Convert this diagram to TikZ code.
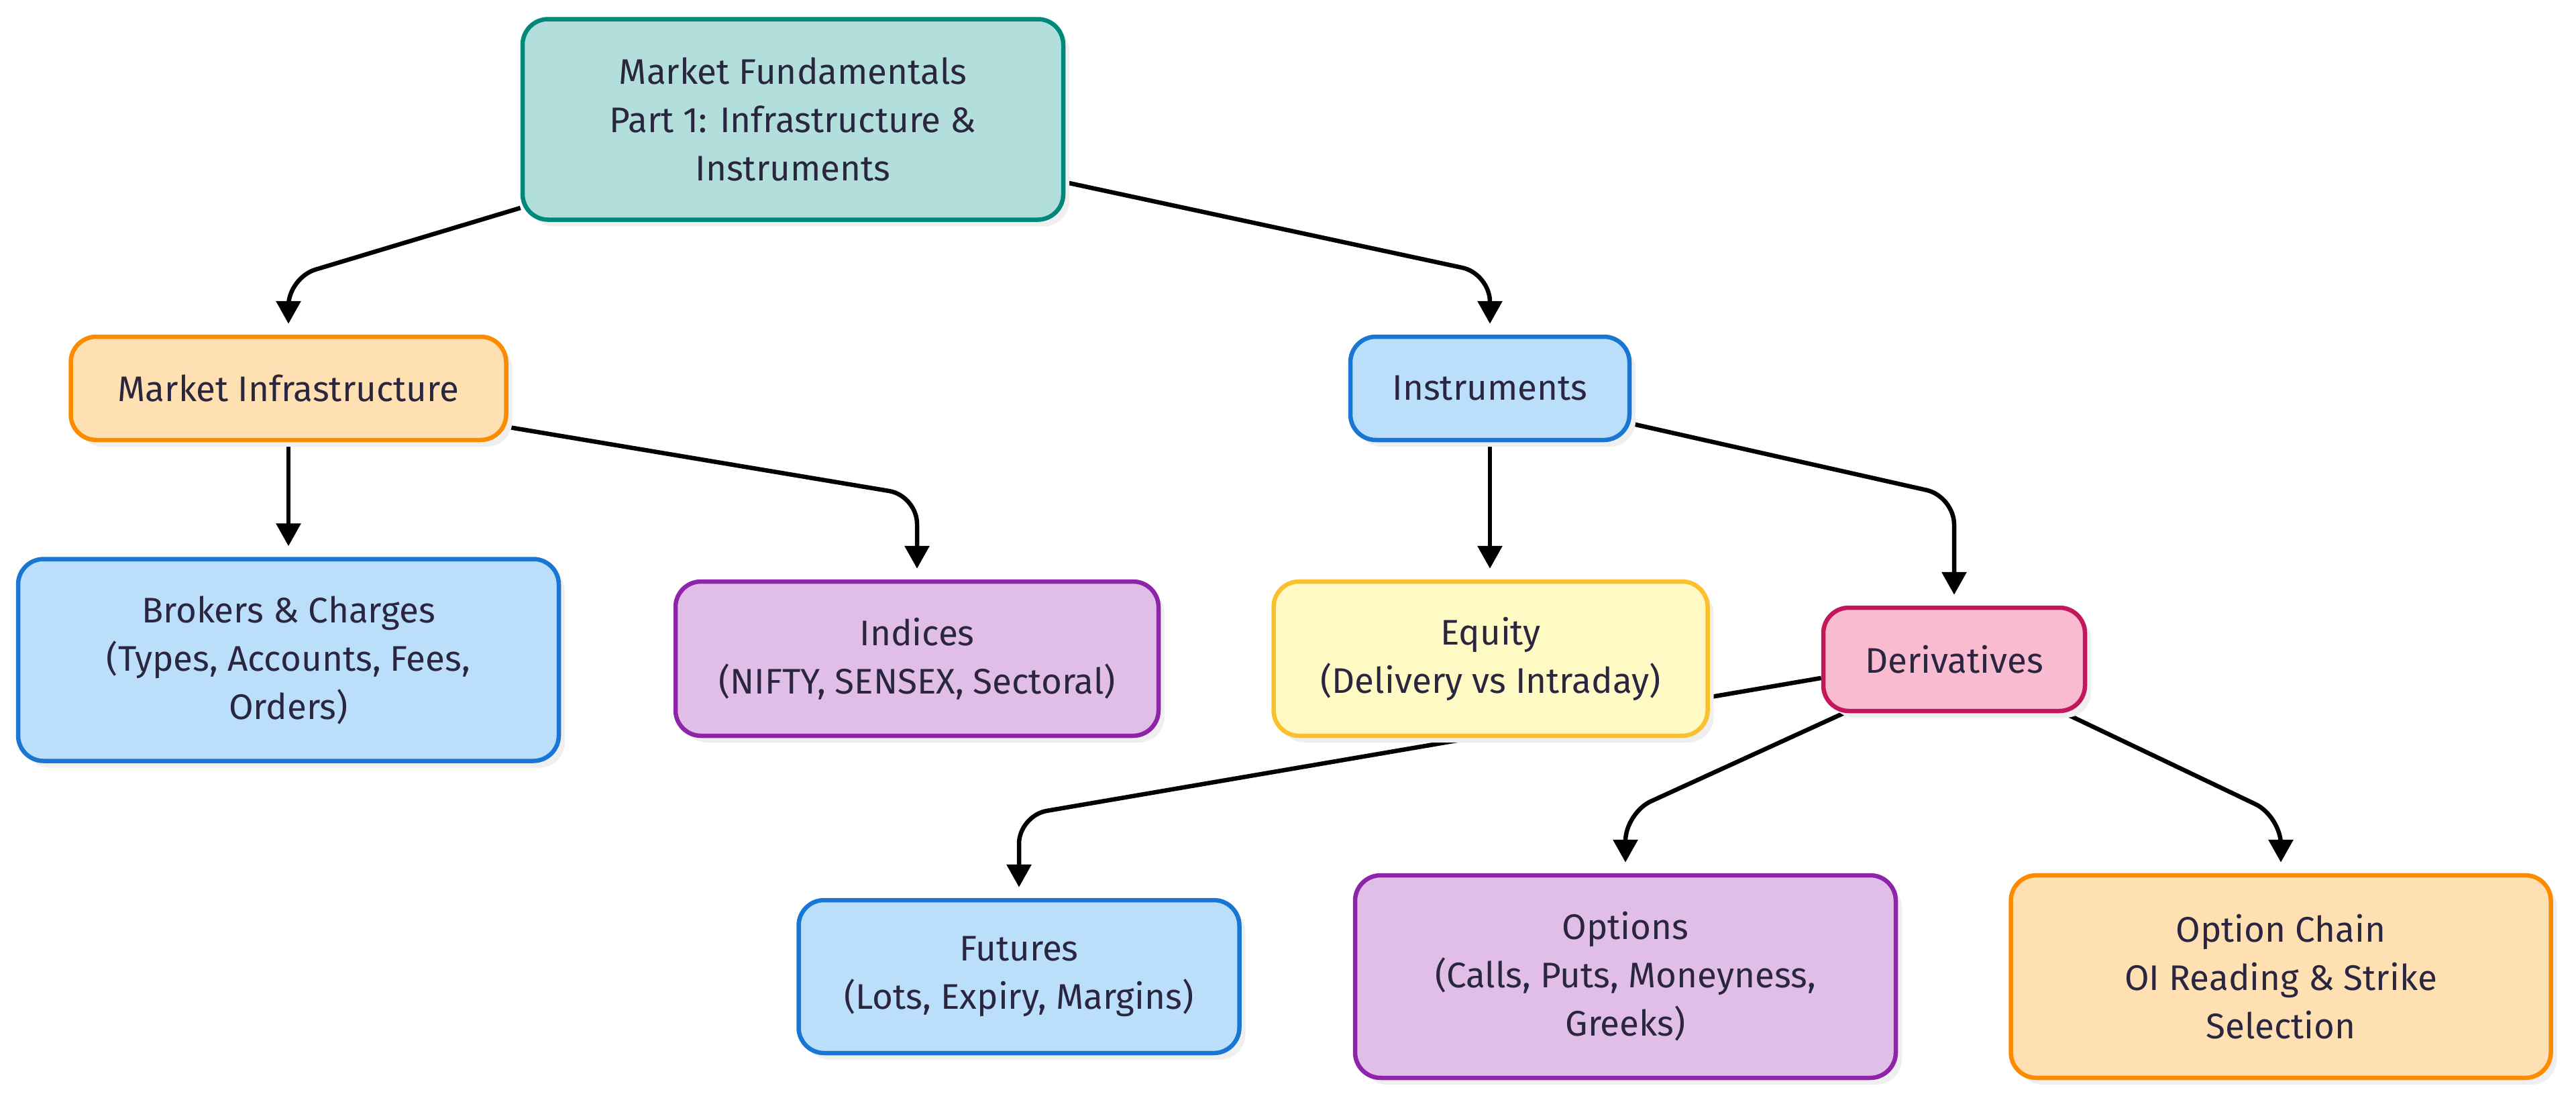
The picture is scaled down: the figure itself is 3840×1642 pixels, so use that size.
\documentclass[tikz,border=0pt]{standalone}
\usepackage{fontspec}
\setmainfont{Fira Sans}
\usetikzlibrary{arrows.meta,shadows,backgrounds}
\definecolor{txt}{RGB}{43,38,64}
\definecolor{tealF}{HTML}{B2DFDB}\definecolor{tealD}{HTML}{00897B}
\definecolor{orF}{HTML}{FFE0B2}\definecolor{orD}{HTML}{FB8C00}
\definecolor{blF}{HTML}{BBDEFB}\definecolor{blD}{HTML}{1976D2}
\definecolor{puF}{HTML}{E1BEE7}\definecolor{puD}{HTML}{8E24AA}
\definecolor{yeF}{HTML}{FFF9C4}\definecolor{yeD}{HTML}{FBC02D}
\definecolor{piF}{HTML}{F8BBD0}\definecolor{piD}{HTML}{C2185B}
\definecolor{shad}{HTML}{EFEFEF}
\tikzset{
  box/.style={draw, line width=6.5pt, rounded corners=38pt, align=center, text=txt,
    font=\fontsize{53}{72}\selectfont, inner sep=0pt,
    drop shadow={shadow xshift=9pt, shadow yshift=-10pt, fill=shad, opacity=1}},
  teal/.style={box, fill=tealF, draw=tealD},
  orng/.style={box, fill=orF, draw=orD},
  blue/.style={box, fill=blF, draw=blD},
  purp/.style={box, fill=puF, draw=puD},
  yell/.style={box, fill=yeF, draw=yeD},
  pink/.style={box, fill=piF, draw=piD},
  arr/.style={line width=6.5pt, black, rounded corners=42pt,
    -{Triangle[length=34pt,width=36pt]}, shorten >=16pt},
}
\begin{document}
\begin{tikzpicture}[x=1pt,y=-1pt]
\useasboundingbox (0,0) rectangle (3840,1642);
\path (1182,178) node[teal, minimum width=806pt, minimum height=299pt] (top) {Market Fundamentals\\Part 1: Infrastructure \&\\Instruments};
\path (430,579) node[orng, minimum width=649pt, minimum height=154pt] (infra) {Market Infrastructure};
\path (2221,579) node[blue, minimum width=416pt, minimum height=154pt] (instr) {Instruments};
\path (430,984) node[blue, minimum width=806pt, minimum height=301pt] (brok) {Brokers \& Charges\\(Types, Accounts, Fees,\\Orders)};
\path (1367,982) node[purp, minimum width=720pt, minimum height=230pt] (ind) {Indices\\(NIFTY, SENSEX, Sectoral)};
\path (2913,983) node[pink, minimum width=390pt, minimum height=154pt] (der) {Derivatives};
\path (2222,982) node[yell, minimum width=647pt, minimum height=230pt] (eq) {Equity\\(Delivery vs Intraday)};
\path (1519,1456) node[blue, minimum width=657pt, minimum height=228pt] (fut) {Futures\\(Lots, Expiry, Margins)};
\path (2423,1456) node[purp, minimum width=806pt, minimum height=302pt] (opt) {Options\\(Calls, Puts, Moneyness,\\Greeks)};
\path (3400,1456) node[orng, minimum width=805pt, minimum height=302pt] (chain) {Option Chain\\OI Reading \& Strike\\Selection};
\begin{scope}[on background layer]
\draw[arr] (top.198) -- (infra.north |- 0,414) -- (infra.north);
\draw[arr] (top.347) -- (instr.north |- 0,408) -- (instr.north);
\draw[arr] (infra.south) -- (brok.north);
\draw[arr] (infra.-10) -- (ind.north |- 0,739) -- (ind.north);
\draw[arr] (instr.south) -- (instr.south |- eq.north);
\draw[arr] (instr.-14) -- (der.north |- 0,740) -- (der.north);
\draw[arr] (der.188) -- (fut.north |- 0,1216) -- (fut.north);
\draw[arr] (der.206) -- (opt.north |- 0,1212) -- (opt.north);
\draw[arr] (der.-26) -- (chain.north |- 0,1217) -- (chain.north);
\end{scope}
\end{tikzpicture}
\end{document}
